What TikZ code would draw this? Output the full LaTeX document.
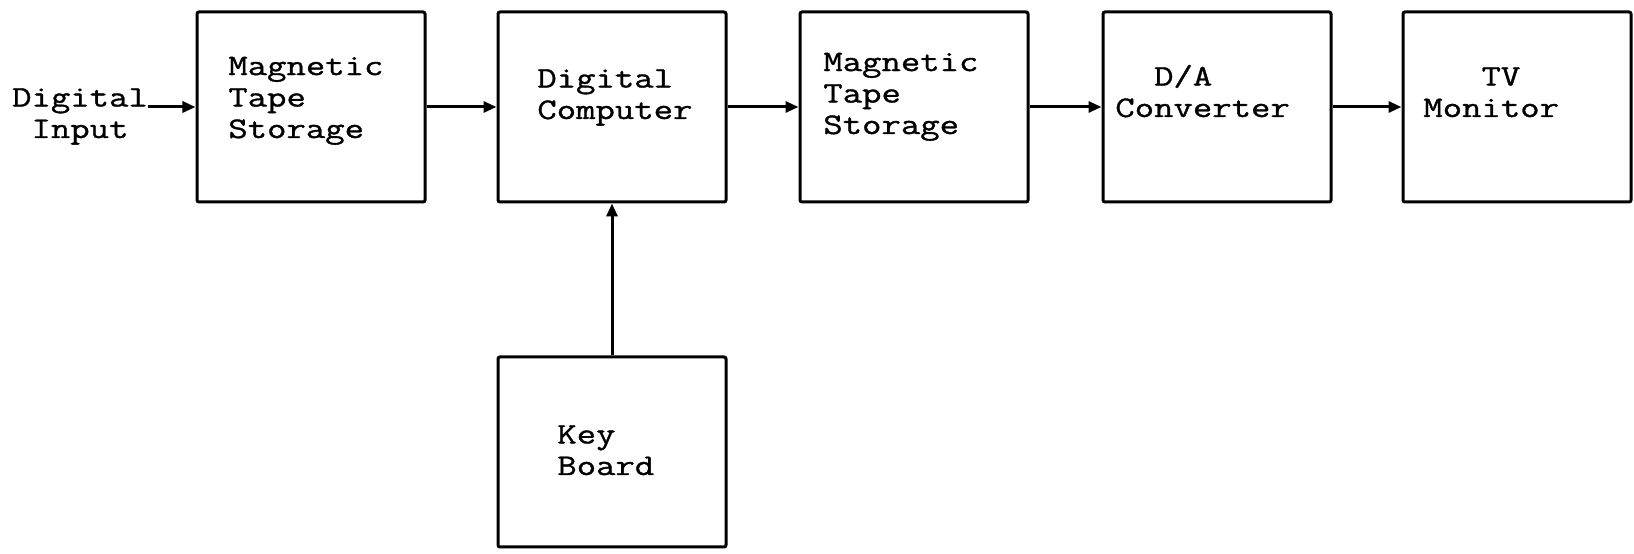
\documentclass[tikz,border=0pt]{standalone}
\usepackage{fontspec}
\newfontfamily\typewriter{Latin Modern Mono}[FakeStretch=1.26, FakeBold=1.1]
\usetikzlibrary{arrows.meta}

\tikzset{
  block/.style={draw, line width=0.6mm, rounded corners=0.4mm,
    minimum width=45.6mm, minimum height=38mm},
  lbl/.style={inner sep=0pt, align=left, anchor=base west,
    font=\typewriter\fontsize{17}{17.9}\selectfont},
  flow/.style={line width=0.6mm, -{Triangle[length=2.6mm,width=2.2mm]}}
}

\begin{document}
\begin{tikzpicture}[x=0.2mm, y=-0.2mm]
  \useasboundingbox (0,0) rectangle (1634,554);

  % blocks of the main chain
  \node[block] (tape1) at (311,107) {};
  \node[block] (comp) at (612,107) {};
  \node[block] (tape2) at (914,107) {};
  \node[block] (conv) at (1217,107) {};
  \node[block] (tv) at (1517,107) {};
  % keyboard below the computer
  \node[block] (kbd) at (612,452) {};

  % texts, typed flush left inside the blocks (placed by their last line)
  \node[lbl] (tape1t) at (228,138) {Magnetic\\Tape\\Storage};
  \node[lbl] (compt) at (537,119) {Digital\\Computer};
  \node[lbl] (tape2t) at (823,134) {Magnetic\\Tape\\Storage};
  \node[lbl] (convt) at (1115,117) {\phantom{Co}D/A\\Converter};
  \node[lbl] (tvt) at (1423,117) {\phantom{Mon}TV\\Monitor};
  \node[lbl] (kbdt) at (557,475) {Key\\Board};
  \node[lbl, align=center, anchor=base] (din) at (80,138) {Digital\\Input};

  % signal flow
  \draw[flow] (din.east |- tape1.west) -- (tape1.west);
  \foreach \a/\b in {tape1/comp, comp/tape2, tape2/conv, conv/tv}
    \draw[flow] (\a) -- (\b);
  \draw[flow] (kbd) -- (comp);

\end{tikzpicture}
\end{document}
